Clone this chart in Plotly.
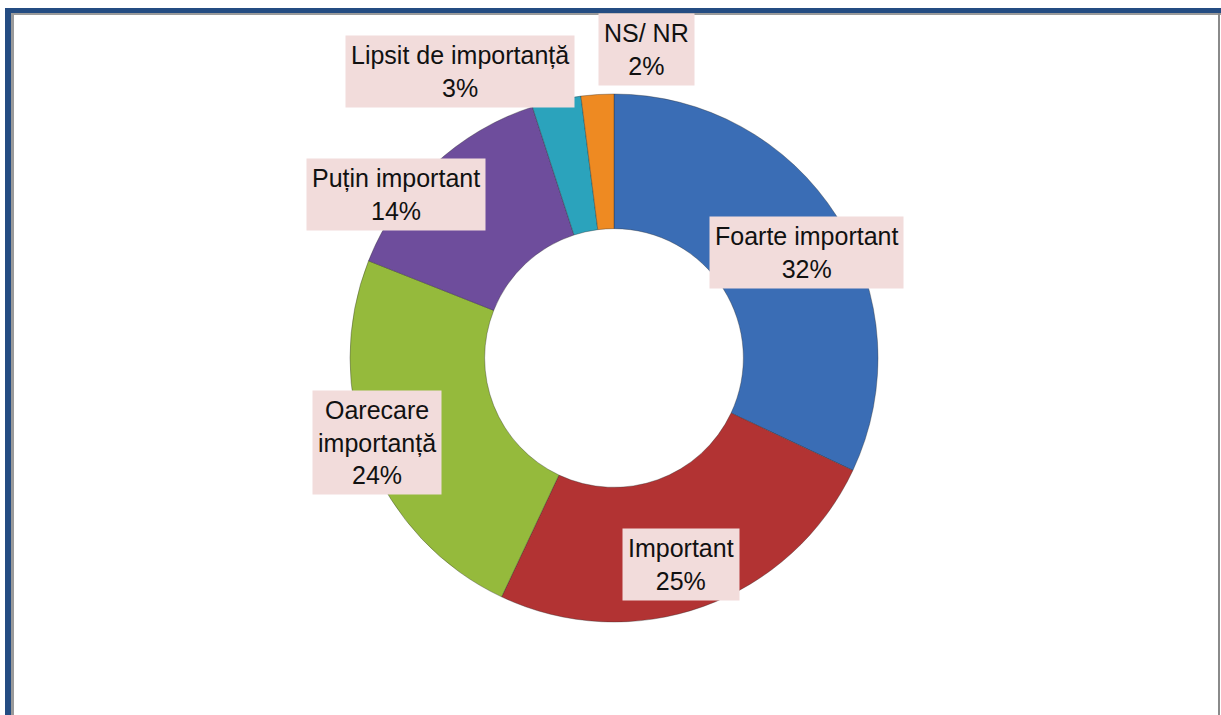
import plotly.graph_objects as go

# Data
categories = ["Foarte important", "Important", "Oarecare importanță", "Puțin important",
              "Lipsit de importanță", "NS/ NR"]
values = [32, 25, 24, 14, 3, 2]
label_texts = ["Foarte important", "Important", "Oarecare<br>importanță", "Puțin important",
               "Lipsit de importanță", "NS/ NR"]

colors = ["#3A6DB5", "#B23333", "#95BA3C", "#6E4D9C", "#2BA3BC", "#EE8A22"]

W, H = 1221, 715

# label box centers (pixels) – layout only
label_pos = [(806, 252), (681, 564), (377, 442), (396, 194), (460, 72), (646, 50)]

cx, cy, r = 614, 358, 264

fig = go.Figure()
fig.add_trace(go.Pie(
    labels=categories,
    values=values,
    hole=0.49,
    sort=False,
    direction="clockwise",
    rotation=0,
    textinfo="none",
    hoverinfo="label+percent",
    marker=dict(colors=colors, line=dict(color="rgba(40,40,40,0.35)", width=1)),
    domain=dict(x=[(cx - r) / W, (cx + r) / W], y=[1 - (cy + r) / H, 1 - (cy - r) / H]),
    showlegend=False,
))

annotations = []
for txt, v, (px, py) in zip(label_texts, values, label_pos):
    annotations.append(dict(
        text=f"{txt}<br>{v}%",
        x=px / W, y=1 - py / H, xref="paper", yref="paper",
        xanchor="center", yanchor="middle",
        showarrow=False,
        font=dict(family="Liberation Sans, Arial, sans-serif", size=25, color="#111111"),
        bgcolor="#F2DCDB",
        borderpad=5,
        align="center",
    ))

def px2x(p):
    return p / W

def py2y(p):
    return 1 - p / H

shapes = [
    # dark blue frame (top, left)
    dict(type="rect", xref="paper", yref="paper", x0=px2x(5), x1=1.0, y0=py2y(13), y1=py2y(8),
         fillcolor="#244C82", line=dict(width=0), layer="above"),
    dict(type="rect", xref="paper", yref="paper", x0=px2x(5), x1=px2x(11), y0=0, y1=py2y(8),
         fillcolor="#244C82", line=dict(width=0), layer="above"),
    # gray inner edges
    dict(type="rect", xref="paper", yref="paper", x0=px2x(11), x1=px2x(1221), y0=py2y(15), y1=py2y(13),
         fillcolor="#9A9A9A", line=dict(width=0), layer="above"),
    dict(type="rect", xref="paper", yref="paper", x0=px2x(11), x1=px2x(14), y0=0, y1=py2y(13),
         fillcolor="#9A9A9A", line=dict(width=0), layer="above"),
    dict(type="rect", xref="paper", yref="paper", x0=px2x(1218), x1=px2x(1220), y0=0, y1=py2y(13),
         fillcolor="#8A8A8A", line=dict(width=0), layer="above"),
]

fig.update_layout(
    width=W, height=H,
    margin=dict(l=0, r=0, t=0, b=0),
    paper_bgcolor="white",
    plot_bgcolor="white",
    annotations=annotations,
    shapes=shapes,
)

fig.write_html("out.html",
               config={"displayModeBar": False},
               post_script="document.body.style.margin='0';document.body.style.overflow='hidden';")
